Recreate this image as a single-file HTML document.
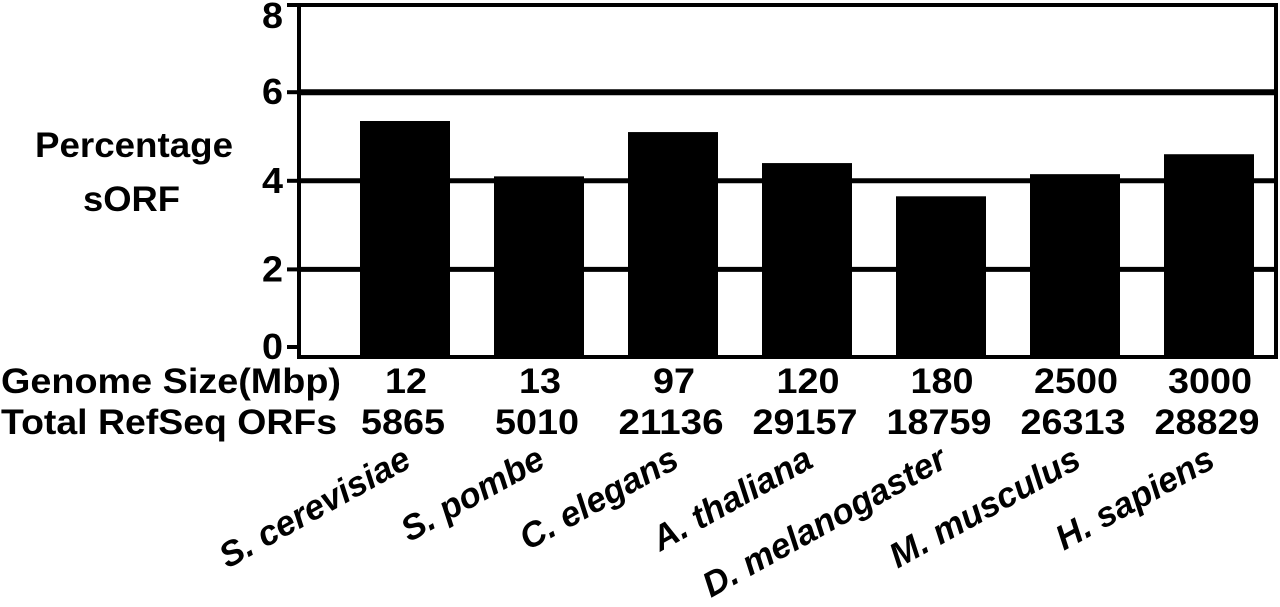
<!DOCTYPE html>
<html><head><meta charset="utf-8">
<style>
html,body{margin:0;padding:0;background:#fff;}
svg{display:block;font-family:"Liberation Sans",Arial,sans-serif;font-weight:bold;}
</style></head>
<body>
<svg id="chart" width="1280" height="607" viewBox="0 0 1280 607" xmlns="http://www.w3.org/2000/svg"></svg>
<script>
const species = ["S. cerevisiae","S. pombe","C. elegans","A. thaliana","D. melanogaster","M. musculus","H. sapiens"];
const sorfPercent = [5.35, 4.1, 5.1, 4.4, 3.65, 4.15, 4.6];
const genomeSize = ["12","13","97","120","180","2500","3000"];
const refseqOrfs = ["5865","5010","21136","29157","18759","26313","28829"];
const yTicks = [0,2,4,6,8];
const gridValues = [2,4,6];

const NS = "http://www.w3.org/2000/svg";
const svgEl = document.getElementById("chart");
const plotL = 299, plotR = 1276, plotT = 5, plotB = 357;
const yScale = v => 358 - 44.3 * v;
const step = (1209 - 405) / (species.length - 1);
const xc = i => 405 + i * step;
const barW = 90;

function mk(tag, attrs) {
  const e = document.createElementNS(NS, tag);
  for (const k in attrs) e.setAttribute(k, attrs[k]);
  svgEl.appendChild(e);
  return e;
}

gridValues.forEach(v => {
  const g = mk("line", {x1:plotL, x2:plotR, y1:yScale(v), y2:yScale(v), stroke:"#000", "stroke-width": v===6?6:5});
  
  
});

species.forEach((s, i) => {
  const yt = yScale(sorfPercent[i]);
  const b = mk("rect", {x:xc(i)-barW/2, y:yt, width:barW, height:359-yt, fill:"#000"});
  
  
});

const box = mk("rect", {x:plotL, y:plotT, width:plotR-plotL, height:plotB-plotT, fill:"none", stroke:"#000", "stroke-width":4});



yTicks.forEach(v => {
  const yy = v===8 ? plotT : (v===0 ? 347 : yScale(v));
  const t = mk("line", {x1:287, x2:plotL, y1:yy, y2:yy, stroke:"#000", "stroke-width":4});
  
  
  const l = mk("text", {x:283, y:Math.max(yy+12, 28), "text-anchor":"end", "font-size":36, textLength:21, lengthAdjust:"spacingAndGlyphs"});
  l.textContent = v;
  
  
});

const t1 = mk("text", {x:35, y:157, "font-size":35, textLength:198, lengthAdjust:"spacingAndGlyphs"});
t1.textContent = "Percentage";


const t2 = mk("text", {x:83, y:211, "font-size":35, textLength:97, lengthAdjust:"spacingAndGlyphs"});
t2.textContent = "sORF";



const r1 = mk("text", {x:1, y:393, "font-size":35, textLength:340, lengthAdjust:"spacingAndGlyphs"});
r1.textContent = "Genome Size(Mbp)";


const r2 = mk("text", {x:1, y:434, "font-size":35, textLength:336, lengthAdjust:"spacingAndGlyphs"});
r2.textContent = "Total RefSeq ORFs";



species.forEach((s, i) => {
  const a = mk("text", {x:xc(i)+1, y:393, "text-anchor":"middle", "font-size":35, textLength:genomeSize[i].length*21, lengthAdjust:"spacingAndGlyphs"});
  a.textContent = genomeSize[i];
  
  
  const b = mk("text", {x:xc(i)-2, y:434, "text-anchor":"middle", "font-size":35, textLength:refseqOrfs[i].length*21, lengthAdjust:"spacingAndGlyphs"});
  b.textContent = refseqOrfs[i];
  
  
  const ex = xc(i) + 8, ey = 466;
  const c = mk("text", {x:ex, y:ey, "text-anchor":"end", "font-size":35, "font-style":"italic", transform:`rotate(-29 ${ex} ${ey})`});
  c.textContent = s;
  
  
});
</script>
</body></html>
